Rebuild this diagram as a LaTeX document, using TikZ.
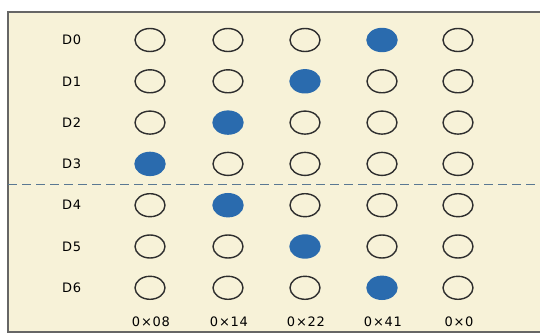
\documentclass[tikz,border=0pt]{standalone}
\usepackage{fontspec}
\setmainfont{DejaVu Sans}[LetterSpace=6]
\usetikzlibrary{shapes.geometric}
\definecolor{paper}{HTML}{F7F2D8}
\definecolor{dotblue}{HTML}{2A6BAE}
\definecolor{ring}{HTML}{2E2E2E}
\definecolor{cutline}{HTML}{5A7892}
\definecolor{frame}{HTML}{666666}
\tikzset{
  lbl/.style={inner sep=0pt, font=\fontsize{13}{15}\selectfont},
  led/.style={ellipse, inner sep=0pt, minimum width=30pt, minimum height=23pt, line width=1.4pt},
}
\begin{document}
\begin{tikzpicture}[x=1pt, y=-1pt]
\def\dy{41.3}
\useasboundingbox (0,0) rectangle (540,336);
\fill[white] (0,0) rectangle (540,336);
\fill[paper] (8,12) rectangle (540,332);
\draw[frame, line width=1.3pt] (540,12) -- (8,12) -- (8,332) -- (540,332);
% rows D0..D6, \f = column that is lit
\foreach \r/\f in {0/4,1/3,2/2,3/1,4/2,5/3,6/4} {
  \node[lbl, anchor=west] (D\r) at (62, 40+\r*\dy) {D\r};
  \foreach \c/\x in {1/150,2/228,3/305,4/382,5/458} {
    \ifnum\c=\f \def\fc{dotblue}\def\dc{dotblue}\else\def\fc{none}\def\dc{ring}\fi
    \node[led, draw=\dc, fill=\fc] (L\r\c) at (\x, 40+\r*\dy) {};
  }
}
% column codes
\foreach \c/\x/\v in {1/150/08,2/228/14,3/305/22,4/382/41,5/458/0}
  \node[lbl] (V\c) at (\x+1, 322) {0×\v};
\coordinate (cutL) at (8,184);
\coordinate (cutR) at (540,184);
\draw[cutline, line width=0.9pt, dash pattern=on 9pt off 5pt] (cutL) -- (cutR);
\end{tikzpicture}
\end{document}
